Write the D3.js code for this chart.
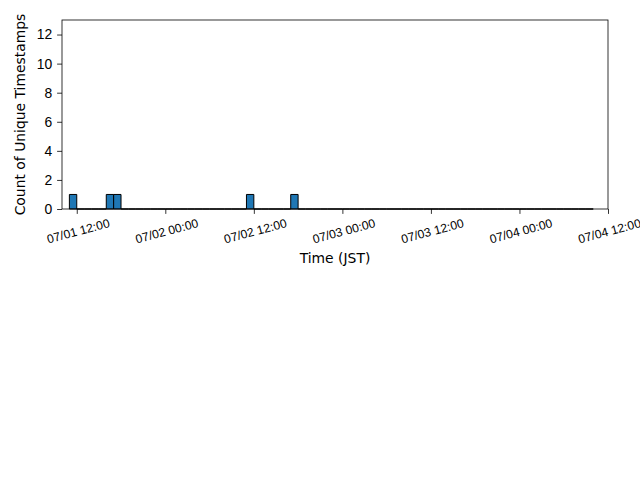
<!DOCTYPE html>
<html>
<head>
<meta charset="utf-8">
<script src="https://cdn.jsdelivr.net/npm/d3@7"></script>
<style>
  body { margin: 0; background: #fff; }
  svg { font-family: "DejaVu Sans", sans-serif; }
</style>
</head>
<body>
<div id="chart"></div>
<script>
// Hourly bins (JST shown as UTC), first bin starts 07/01 11:00
const binStart = '2023-07-01T11:00:00Z';
const counts = [
    1, 0, 0, 0, 0, 1, 1, 0, 0, 0, 0, 0, 0,          // 07/01 11:00 - 23:00
    0, 0, 0, 0, 0, 0, 0, 0, 0, 0, 0, 1,             // 07/02 00:00 - 11:00
    0, 0, 0, 0, 0, 1, 0, 0, 0, 0, 0, 0,             // 07/02 12:00 - 23:00
    0, 0, 0, 0, 0, 0, 0, 0, 0, 0, 0, 0,             // 07/03 00:00 - 11:00
    0, 0, 0, 0, 0, 0, 0, 0, 0, 0, 0, 0,             // 07/03 12:00 - 23:00
    0, 0, 0, 0, 0, 0, 0, 0, 0, 0                    // 07/04 00:00 - 09:00
];
const xLimits = ['2023-07-01T10:00:00Z', '2023-07-04T12:00:00Z'];
const xTicks = ['2023-07-01T12:00:00Z', '2023-07-02T00:00:00Z', '2023-07-02T12:00:00Z',
    '2023-07-03T00:00:00Z', '2023-07-03T12:00:00Z', '2023-07-04T00:00:00Z', '2023-07-04T12:00:00Z'];
const yTicks = [0, 2, 4, 6, 8, 10, 12];
const yMax = 13;

const chart = {
    totalWidth: 640,
    totalHeight: 480,
    margin: { top: 20, left: 62, right: 32, bottom: 271 }
};
chart.width = chart.totalWidth - chart.margin.left - chart.margin.right;
chart.height = chart.totalHeight - chart.margin.top - chart.margin.bottom;

const svg = d3.select('#chart')
    .append('svg')
    .attr('width', chart.totalWidth)
    .attr('height', chart.totalHeight);

const g = svg.append('g')
    .attr('transform', `translate(${chart.margin.left}, ${chart.margin.top})`);

const xScale = d3.scaleUtc()
    .domain(xLimits.map(d => new Date(d)))
    .range([0, chart.width]);

const yScale = d3.scaleLinear()
    .domain([0, yMax])
    .range([chart.height, 0]);

const hour = 3600 * 1000;
const t0 = new Date(binStart).getTime();
const bins = counts.map((c, i) => ({
    x0: new Date(t0 + i * hour),
    x1: new Date(t0 + (i + 1) * hour),
    count: c
}));

// Bars (zero bars become a flat outline, like the reference)
g.append('g')
    .selectAll('path')
    .data(bins)
    .enter()
    .append('path')
    .attr('d', d => {
        const a = xScale(d.x0), b = xScale(d.x1);
        const y0 = yScale(0), y1 = yScale(d.count);
        return `M${a},${y0}V${y1}H${b}V${y0}Z`;
    })
    .attr('fill', '#1f77b4')
    .attr('stroke', '#000')
    .attr('stroke-width', 1);

// Axes
const xAxis = d3.axisBottom(xScale)
    .tickValues(xTicks.map(d => new Date(d)))
    .tickFormat(d3.utcFormat('%m/%d %H:%M'))
    .tickSize(4.9)
    .tickSizeOuter(0);

const xg = g.append('g')
    .attr('transform', `translate(0, ${chart.height})`)
    .call(xAxis);
xg.select('.domain').remove();
xg.selectAll('line').attr('stroke', '#000').attr('stroke-width', 0.8);
xg.selectAll('text')
    .attr('font-size', 12.2)
    .attr('fill', '#000')
    .attr('text-anchor', 'middle')
    .attr('y', 0)
    .attr('dy', '0.35em')
    .attr('transform', 'translate(1, 22) rotate(-15)');

const yAxis = d3.axisLeft(yScale)
    .tickValues(yTicks)
    .tickSize(4.9)
    .tickPadding(4.9)
    .tickSizeOuter(0);

const yg = g.append('g').call(yAxis);
yg.select('.domain').remove();
yg.selectAll('line').attr('stroke', '#000').attr('stroke-width', 0.8);
yg.selectAll('text')
    .attr('font-size', 13.9)
    .attr('fill', '#000');

// Frame
g.append('rect')
    .attr('width', chart.width)
    .attr('height', chart.height)
    .attr('fill', 'none')
    .attr('stroke', '#000')
    .attr('stroke-width', 0.8);

// Labels
svg.append('text')
    .attr('x', chart.margin.left + chart.width / 2)
    .attr('y', 263)
    .attr('text-anchor', 'middle')
    .attr('font-size', 13.9)
    .text('Time (JST)');

svg.append('text')
    .attr('transform', `translate(25, ${chart.margin.top + chart.height / 2}) rotate(-90)`)
    .attr('text-anchor', 'middle')
    .attr('font-size', 13.9)
    .text('Count of Unique Timestamps');
</script>
</body>
</html>
